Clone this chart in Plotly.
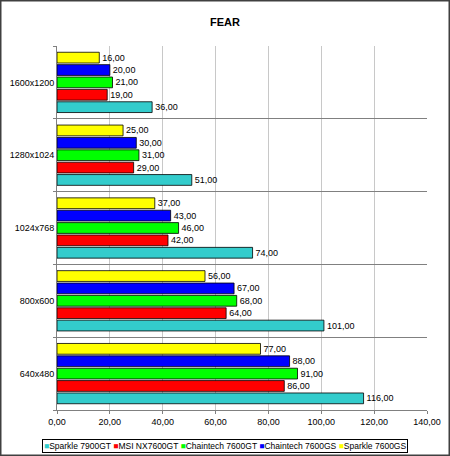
import plotly.graph_objects as go

# Результаты FEAR (кадров в секунду)
resolutions = ["640x480", "800x600", "1024x768", "1280x1024", "1600x1200"]

sparkle_7900gt = [116, 101, 74, 51, 36]
msi_nx7600gt = [86, 64, 42, 29, 19]
chaintech_7600gt = [91, 68, 46, 31, 21]
chaintech_7600gs = [88, 67, 43, 30, 20]
sparkle_7600gs = [77, 56, 37, 25, 16]

series = [
    ("Sparkle 7900GT", sparkle_7900gt, "#33CCCC"),
    ("MSI NX7600GT", msi_nx7600gt, "#FF0000"),
    ("Chaintech 7600GT", chaintech_7600gt, "#00FF00"),
    ("Chaintech 7600GS", chaintech_7600gs, "#0000FF"),
    ("Sparkle 7600GS", sparkle_7600gs, "#FFFF00"),
]

W, H = 450, 456
L, R, T, B = 57, 23, 46, 46
pw, ph = W - L - R, H - T - B

fig = go.Figure()
for name, vals, color in series:
    fig.add_trace(go.Bar(
        y=resolutions,
        x=vals,
        name=name,
        orientation="h",
        marker=dict(color=color, line=dict(color="#000000", width=0.8)),
        texttemplate="%{x:.2f}",
        textposition="outside",
        textfont=dict(size=9, color="#000000"),
        cliponaxis=False,
        showlegend=False,
    ))

# легенда в стиле Excel: одна строка в рамке
legend_text = "".join(
    f"<span style='color:{c}'>■</span>{n} " for n, _, c in series
).strip()

fig.update_layout(
    width=W,
    height=H,
    margin=dict(l=L, r=R, t=T, b=B),
    paper_bgcolor="white",
    plot_bgcolor="white",
    font=dict(family="Liberation Sans, Arial, sans-serif", size=9, color="#000000"),
    separators=", ",
    title=dict(text="<b>FEAR</b>", x=0.5, xref="container", xanchor="center",
               y=1 - 22 / H, yref="container", yanchor="middle",
               font=dict(size=11)),
    barmode="group",
    bargap=0.15,
    bargroupgap=0.13,
    annotations=[dict(
        text=legend_text, showarrow=False,
        xref="paper", yref="paper",
        x=(225 - L) / pw, y=-(446 - (H - B)) / ph,
        xanchor="center", yanchor="middle",
        bordercolor="#000000", borderwidth=1, borderpad=1,
        bgcolor="white", font=dict(size=8.5),
    )],
    shapes=[dict(type="rect", xref="paper", yref="paper",
                 x0=-(L - 0.75) / pw, x1=1 + (R - 0.75) / pw,
                 y0=-(B - 0.75) / ph, y1=1 + (T - 0.75) / ph,
                 line=dict(color="#404040", width=1.5))],
)

fig.update_xaxes(
    range=[0, 140],
    dtick=20,
    tickformat=".2f",
    automargin=False,
    showgrid=True,
    gridcolor="#C8C8C8",
    gridwidth=1,
    zeroline=False,
    showline=True,
    linecolor="#808080",
    ticks="outside",
    ticklen=3,
    tickcolor="#808080",
)
fig.update_yaxes(
    type="category",
    tickson="boundaries",
    automargin=False,
    showgrid=True,
    gridcolor="#808080",
    gridwidth=1,
    showline=True,
    linecolor="#808080",
    ticks="outside",
    ticklen=3,
    tickcolor="#808080",
)

# убрать отступ body, чтобы график занимал всё окно
fig.write_html("out.html", config={"displayModeBar": False},
               post_script="document.body.style.margin='0';")
